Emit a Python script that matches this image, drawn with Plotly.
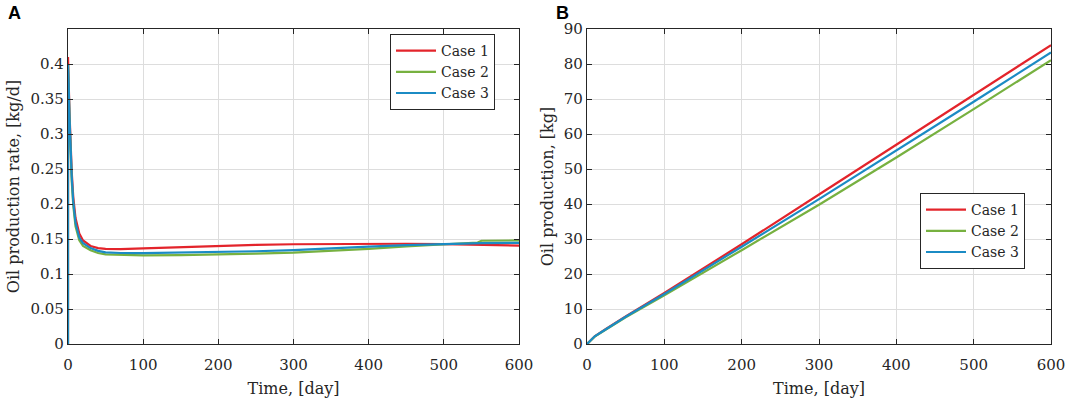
import plotly.graph_objects as go
from plotly.subplots import make_subplots

# panel A: oil production rate, kg/d
rate_days = [0, 0.01, 0.5, 1, 2, 3, 5, 7, 10, 15, 20, 30, 40, 50, 70, 100, 150,
             200, 250, 300, 350, 400, 450, 500, 545, 550, 600]
rate_case1 = [0, 0.41, 0.39, 0.37, 0.33, 0.29, 0.245, 0.21, 0.18, 0.158, 0.148,
              0.140, 0.137, 0.136, 0.1355, 0.1365, 0.1385, 0.140, 0.1415, 0.1425,
              0.143, 0.143, 0.1432, 0.1428, 0.1415, 0.1413, 0.1405]
rate_case2 = [0, 0.40, 0.38, 0.36, 0.32, 0.28, 0.232, 0.198, 0.168, 0.148, 0.140,
              0.134, 0.130, 0.128, 0.127, 0.1265, 0.127, 0.1275, 0.129, 0.1305,
              0.133, 0.136, 0.1395, 0.1425, 0.145, 0.1475, 0.148]
rate_case3 = [0, 0.40, 0.385, 0.365, 0.325, 0.285, 0.238, 0.203, 0.173, 0.152,
              0.144, 0.137, 0.133, 0.131, 0.130, 0.1298, 0.1305, 0.1315, 0.1325,
              0.134, 0.136, 0.139, 0.1412, 0.143, 0.1438, 0.144, 0.1445]

# panel B: cumulative oil production, kg
cum_days = [0, 10, 25, 50, 100, 150, 200, 300, 400, 500, 600]
cum_case1 = [0, 2.2, 4.4, 7.9, 14.6, 21.5, 28.5, 42.7, 56.9, 71.2, 85.4]
cum_case2 = [0, 2.1, 4.2, 7.6, 13.9, 20.3, 26.8, 39.8, 53.3, 67.1, 81.1]
cum_case3 = [0, 2.2, 4.3, 7.8, 14.3, 21.0, 27.8, 41.4, 55.2, 69.2, 83.3]

case_names = ['Case 1', 'Case 2', 'Case 3']
case_colors = ['#E3242B', '#77B140', '#1B8BC4']

W, H = 1065, 400
ML, MR, MT, MB = 40, 10, 20, 40
PW, PH = W - ML - MR, H - MT - MB
serif = 'DejaVu Serif'
ink = '#262626'


def px_x(v):
    return (v - ML) / PW


def px_y(v):
    return 1 - (v - MT) / PH


fig = make_subplots(rows=1, cols=2)

for name, color, ys in zip(case_names, case_colors, [rate_case1, rate_case2, rate_case3]):
    fig.add_trace(go.Scatter(x=rate_days, y=ys, mode='lines', name=name,
                             line=dict(color=color, width=2.2), legend='legend'),
                  row=1, col=1)

for name, color, ys in zip(case_names, case_colors, [cum_case1, cum_case2, cum_case3]):
    fig.add_trace(go.Scatter(x=cum_days, y=ys, mode='lines', name=name,
                             line=dict(color=color, width=2.2), legend='legend2'),
                  row=1, col=2)

axis_style = dict(showline=True, linecolor=ink, linewidth=1.3, mirror='ticks',
                  ticks='inside', ticklen=5, tickcolor=ink, tickwidth=1.3,
                  showgrid=True, gridcolor='#DDDDDD', gridwidth=1, zeroline=False,
                  automargin=False, ticklabeloverflow='allow',
                  tickfont=dict(family=serif, size=15, color=ink))
title_font = dict(family=serif, size=16, color=ink)

y_dom = [px_y(344), px_y(29)]

fig.update_xaxes(axis_style)
fig.update_yaxes(axis_style)
fig.update_xaxes(ticklabelstandoff=7)

fig.update_xaxes(range=[0, 600], dtick=100, domain=[px_x(68), px_x(519)],
                 title=dict(text='Time, [day]', standoff=9, font=title_font),
                 row=1, col=1)
fig.update_xaxes(range=[0, 600], dtick=100, domain=[px_x(587), px_x(1051)],
                 title=dict(text='Time, [day]', standoff=9, font=title_font),
                 row=1, col=2)
fig.update_yaxes(range=[0, 0.45], tickvals=[0, 0.05, 0.1, 0.15, 0.2, 0.25, 0.3, 0.35, 0.4],
                 ticktext=['0', '0.05', '0.1', '0.15', '0.2', '0.25', '0.3', '0.35', '0.4'],
                 domain=y_dom,
                 title=dict(text='Oil production rate, [kg/d]', standoff=6, font=title_font),
                 row=1, col=1)
fig.update_yaxes(range=[0, 90], dtick=10, domain=y_dom,
                 title=dict(text='Oil production, [kg]', standoff=6, font=title_font),
                 row=1, col=2)

legend_style = dict(bgcolor='white', bordercolor=ink, borderwidth=1,
                    font=dict(family=serif, size=14, color=ink),
                    xanchor='right', yanchor='top', tracegroupgap=0,
                    itemwidth=40)

fig.update_layout(
    width=W, height=H,
    margin=dict(l=ML, r=MR, t=MT, b=MB, autoexpand=False),
    paper_bgcolor='white', plot_bgcolor='white',
    legend=dict(legend_style, x=px_x(495), y=px_y(34)),
    legend2=dict(legend_style, x=px_x(1025), y=px_y(193)),
    annotations=[
        dict(text='<b>A</b>', x=px_x(14), y=px_y(13), xref='paper', yref='paper',
             xanchor='center', yanchor='middle', showarrow=False,
             font=dict(family='Liberation Sans', size=18, color='black')),
        dict(text='<b>B</b>', x=px_x(562), y=px_y(13), xref='paper', yref='paper',
             xanchor='center', yanchor='middle', showarrow=False,
             font=dict(family='Liberation Sans', size=18, color='black')),
    ],
)

# drop the page's default body margin so the figure sits at the window origin
fig.write_html('out.html', config={'displayModeBar': False},
               post_script="document.body.style.margin='0';"
                           "document.body.style.overflow='hidden';")
